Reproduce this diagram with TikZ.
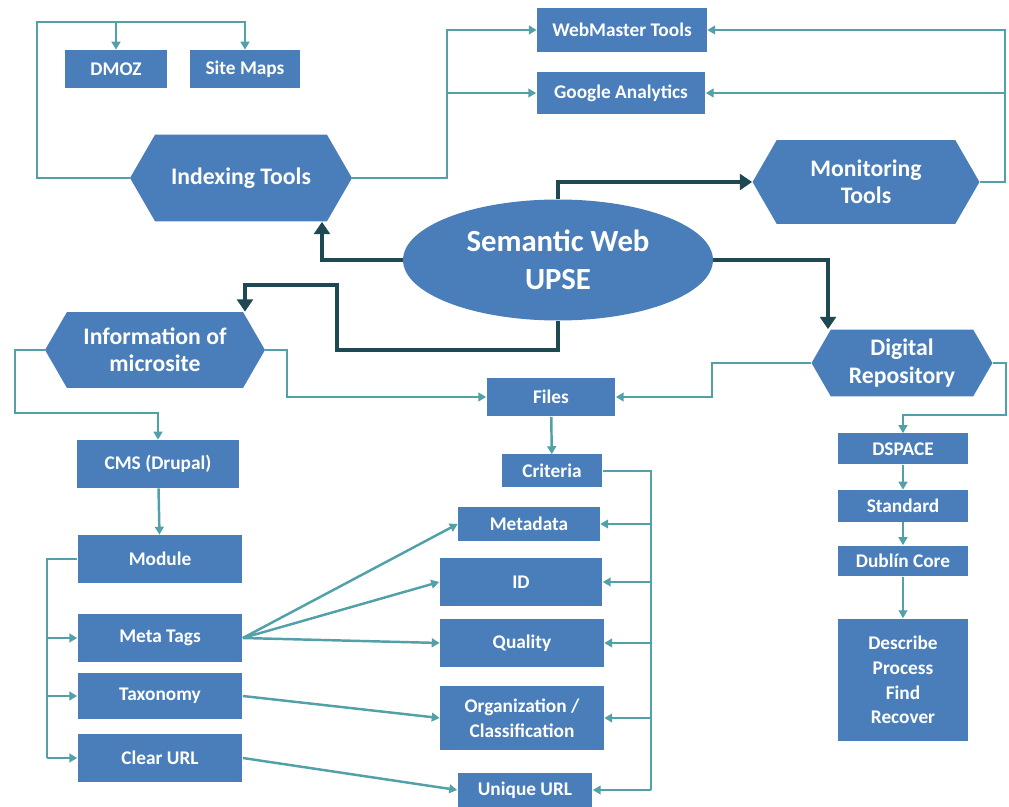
\documentclass[tikz,border=0pt]{standalone}
\usepackage{fontspec}
\setmainfont{Carlito}
\usetikzlibrary{shapes.geometric, shapes.symbols, arrows.meta, positioning, calc}

\definecolor{boxblue}{RGB}{74,126,187}
\definecolor{linkteal}{RGB}{82,160,168}
\definecolor{hubdark}{RGB}{30,72,82}

\begin{document}
\begin{tikzpicture}[
  x=0.02cm, y=-0.02cm,
  every node/.style={text=white},
  box/.style={rectangle, fill=boxblue, inner sep=1pt, align=center,
    font=\fontsize{11}{14}\selectfont\bfseries},
  hexa/.style={signal, signal to=west and east, signal pointer angle=120,
    fill=boxblue, inner sep=1pt, align=center,
    font=\fontsize{13.5}{15.5}\selectfont\bfseries},
  core/.style={ellipse, fill=boxblue, inner sep=1pt, align=center,
    font=\fontsize{17.5}{21.5}\selectfont\bfseries},
  link/.style={-{Triangle[length=4.5pt,width=5pt]}, line width=1.4pt, linkteal},
  plain/.style={line width=1.4pt, linkteal},
  hub/.style={-{Triangle[length=7pt,width=9pt]}, line width=2.4pt, hubdark}
]
\useasboundingbox (0,0) rectangle (1009,807);

% ===== CENTRO =====
\node[core, minimum width=6.2cm, minimum height=2.42cm] (semantic) at (558,260) {Semantic Web\\UPSE};

% ===== HERRAMIENTAS =====
\node[hexa, minimum width=4.44cm, minimum height=1.74cm] (indexing) at (241,178) {Indexing Tools};
\node[hexa, minimum width=4.54cm, minimum height=1.68cm] (monitoring) at (866,182) {Monitoring\\Tools};
\node[box, minimum width=2.06cm, minimum height=0.76cm] (dmoz) at (116,69) {DMOZ};
\node[box, minimum width=2.2cm, minimum height=0.76cm] (sitemaps) at (245,69) {Site Maps};
\node[box, minimum width=3.4cm, minimum height=0.88cm] (webmaster) at (622,30) {WebMaster Tools};
\node[box, minimum width=3.38cm, minimum height=0.84cm] (google) at (621,93) {Google Analytics};

% ===== MICROSITIO =====
\node[hexa, minimum width=4.4cm, minimum height=1.52cm] (info) at (155,350) {Information of\\microsite};
\node[box, minimum width=3.26cm, minimum height=0.96cm] (cms) at (158,464) {CMS (Drupal)};
\node[box, minimum width=3.3cm, minimum height=0.96cm] (module) at (160,559) {Module};
\node[box, minimum width=3.3cm, minimum height=0.98cm] (metatags) at (160,638) {Meta Tags};
\node[box, minimum width=3.3cm, minimum height=0.94cm] (taxonomy) at (160,696) {Taxonomy};
\node[box, minimum width=3.3cm, minimum height=0.98cm] (clearurl) at (160,758) {Clear URL};

% ===== ARCHIVOS =====
\node[box, minimum width=2.58cm, minimum height=0.78cm] (files) at (551,397) {Files};
\node[box, minimum width=2.02cm, minimum height=0.66cm] (criteria) at (552,471) {Criteria};
\node[box, minimum width=2.84cm, minimum height=0.68cm] (metadata) at (529,524) {Metadata};
\node[box, minimum width=3.26cm, minimum height=0.98cm] (id) at (521,582) {ID};
\node[box, minimum width=3.28cm, minimum height=0.98cm] (quality) at (522,643) {Quality};
\node[box, minimum width=3.28cm, minimum height=1.28cm] (orgclass) at (522,718) {Organization /\\Classification};
\node[box, minimum width=2.7cm, minimum height=0.68cm] (uniqueurl) at (525,790) {Unique URL};

% ===== REPOSITORIO =====
\node[hexa, minimum width=3.62cm, minimum height=1.34cm] (digital) at (902,363) {Digital\\Repository};
\node[box, minimum width=2.6cm, minimum height=0.62cm] (dspace) at (903,449) {DSPACE};
\node[box, minimum width=2.6cm, minimum height=0.64cm] (standard) at (903,506) {Standard};
\node[box, minimum width=2.6cm, minimum height=0.62cm] (dublin) at (903,561) {Dublín Core};
\node[box, minimum width=2.6cm, minimum height=2.46cm] (describe) at (903,680) {Describe\\Process\\Find\\Recover};

% ===== CONECTORES CENTRALES =====
\draw[hub] (semantic.north) |- (monitoring.west);
\draw[hub] (semantic.west) -| ([xshift=1.62cm]indexing.south);
\draw[hub] (semantic.south) -- ++(0,29) -| (337,285) -| ([xshift=1.8cm]info.north);
\draw[hub] (semantic.east) -| ([xshift=-1.48cm]digital.north);

% ===== HERRAMIENTAS =====
\coordinate (idxbar) at (37,22);
\draw[link] (indexing.west) -| (idxbar) -| (dmoz.north);
\draw[link] (idxbar) -| (sitemaps.north);
\coordinate (toolbar) at (447,178);
\draw[link] (indexing.east) -- (toolbar) |- (webmaster.west);
\draw[link] (toolbar) |- (google.west);
\coordinate (monbar) at (1005,182);
\draw[link] (monitoring.east) -- (monbar) |- (webmaster.east);
\draw[link] (monbar) |- (google.east);

% ===== MICROSITIO =====
\draw[link] (info.west) -| (15,413) -| (cms.north);
\draw[link] (cms) -- (module);
\coordinate (modbar) at (47,559);
\draw[plain] (module.west) -- (modbar) -- (modbar |- clearurl.west);
\foreach \n in {metatags,taxonomy,clearurl}
  \draw[link] (modbar |- \n.west) -- (\n.west);
\draw[link] (metatags.east) -- (metadata.west);
\draw[link] (metatags.east) -- (id.west);
\draw[link] (metatags.east) -- (quality.west);
\draw[link] (taxonomy.east) -- (orgclass.west);
\draw[link] (clearurl.east) -- (uniqueurl.west);

% ===== ARCHIVOS =====
\draw[link] (info.east) -- (287,350) |- (files.west);
\draw[link] (digital.west) -- (712,363) |- (files.east);
\draw[link] (files) -- (criteria);
\coordinate (critbar) at (651,471);
\draw[plain] (criteria.east) -- (critbar) -- (critbar |- uniqueurl.east);
\foreach \n in {metadata,id,quality,orgclass,uniqueurl}
  \draw[link] (critbar |- \n.east) -- (\n.east);

% ===== REPOSITORIO =====
\draw[link] (digital.east) -| (1006,415) -| (dspace.north);
\draw[link] (dspace) -- (standard);
\draw[link] (standard) -- (dublin);
\draw[link] (dublin) -- (describe);
\end{tikzpicture}
\end{document}
